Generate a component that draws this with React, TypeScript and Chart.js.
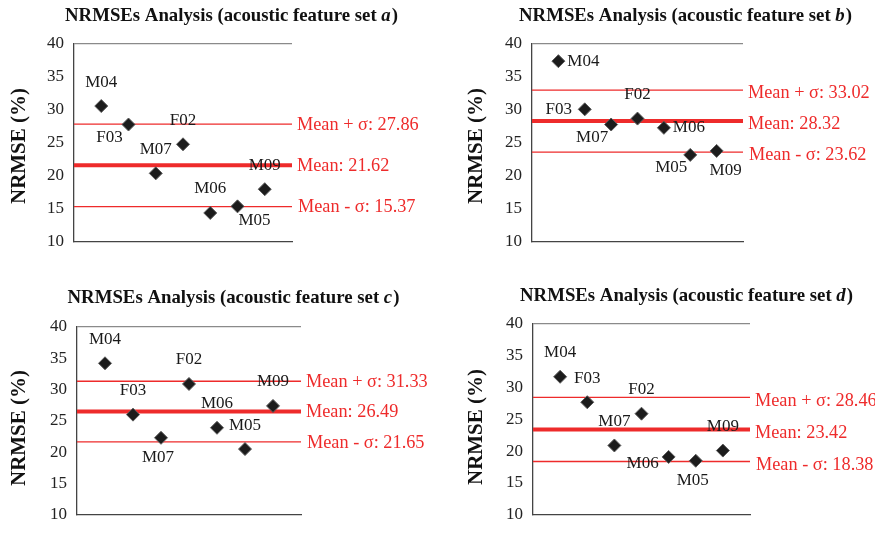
import React, { useEffect, useRef } from 'react';
import { Chart, registerables } from 'chart.js';

Chart.register(...registerables);

// ---------- data ----------
const speakers = ['M04', 'F03', 'M07', 'F02', 'M06', 'M05', 'M09'];
const yTicks = [10, 15, 20, 25, 30, 35, 40];

const nrmseA = [30.6, 27.8, 20.4, 24.8, 14.4, 15.4, 18.0];
const nrmseB = [37.4, 30.1, 27.8, 28.7, 27.3, 23.2, 23.8];
const nrmseC = [34.2, 26.0, 22.3, 30.9, 23.9, 20.5, 27.4];
const nrmseD = [31.7, 27.7, 20.9, 25.9, 19.1, 18.5, 20.1];

const meanA = 21.62, upperA = 27.86, lowerA = 15.37;
const meanB = 28.32, upperB = 33.02, lowerB = 23.62;
const meanC = 26.49, upperC = 31.33, lowerC = 21.65;
const meanD = 23.42, upperD = 28.46, lowerD = 18.38;

const featureSets = ['a', 'b', 'c', 'd'];

// label placement keywords per panel (style)
const placeA = ['above', 'belowLeft', 'above', 'above', 'above', 'belowRight', 'above'];
const placeB = ['right', 'left', 'belowLeft', 'above', 'right', 'belowLeft', 'belowNear'];
const placeC = ['above', 'above', 'below', 'above', 'above', 'above', 'above'];
const placeD = ['above', 'above', 'above', 'above', 'leftLow', 'below', 'above'];

const OFFSETS: Record<string, [number, number]> = {
  above: [0, -24],
  below: [-3, 20],
  belowNear: [9, 20],
  left: [-26, 0],
  right: [25, 0],
  leftLow: [-26, 7],
  belowLeft: [-19, 13],
  belowRight: [17, 14],
};

const RED = '#ee2b2b';
const SERIF = '"Liberation Serif", "Times New Roman", serif';
const TITLE_SIZE = 18.8;

type Panel = {
  set: string;
  values: number[];
  mean: number;
  upper: number;
  lower: number;
  place: string[];
  box: { x: number; y: number; w: number; h: number };
  area: { l: number; t: number; r: number; b: number };
  title: { x: number; y: number };
  ylab: { x: number; y: number };
  meanDy: number;
};

const panels: Panel[] = [
  {
    set: featureSets[0], values: nrmseA, mean: meanA, upper: upperA, lower: lowerA, place: placeA,
    box: { x: 0, y: 0, w: 438, h: 270 }, area: { l: 74, t: 44, r: 292, b: 242 },
    title: { x: 231, y: 16 }, ylab: { x: 20, y: 146 }, meanDy: 1,
  },
  {
    set: featureSets[1], values: nrmseB, mean: meanB, upper: upperB, lower: lowerB, place: placeB,
    box: { x: 438, y: 0, w: 437, h: 270 }, area: { l: 532, t: 44, r: 743, b: 242 },
    title: { x: 685, y: 16 }, ylab: { x: 477, y: 146 }, meanDy: 3,
  },
  {
    set: featureSets[2], values: nrmseC, mean: meanC, upper: upperC, lower: lowerC, place: placeC,
    box: { x: 0, y: 270, w: 438, h: 265 }, area: { l: 77, t: 327, r: 301, b: 527 },
    title: { x: 233, y: 298 }, ylab: { x: 20, y: 428 }, meanDy: 1,
  },
  {
    set: featureSets[3], values: nrmseD, mean: meanD, upper: upperD, lower: lowerD, place: placeD,
    box: { x: 438, y: 270, w: 437, h: 265 }, area: { l: 533, t: 324, r: 750, b: 522 },
    title: { x: 686, y: 296 }, ylab: { x: 477, y: 427 }, meanDy: 4,
  },
];

function PanelChart({ p }: { p: Panel }) {
  const ref = useRef<HTMLCanvasElement | null>(null);
  useEffect(() => {
    const canvas = ref.current;
    if (!canvas) return;
    const ox = p.box.x, oy = p.box.y;

    const decor = {
      id: 'decor' + p.set,
      afterDraw(chart: any) {
        const ctx = chart.ctx;
        const xs = chart.scales.x, ys = chart.scales.y;
        ctx.save();
        // title
        const part1 = 'NRMSEs Analysis (acoustic feature set ';
        const part3 = ')';
        const fB = `bold ${TITLE_SIZE}px ${SERIF}`;
        const fI = `italic bold ${TITLE_SIZE}px ${SERIF}`;
        ctx.textBaseline = 'middle';
        ctx.fillStyle = '#111';
        ctx.font = fB;
        const w1 = ctx.measureText(part1).width;
        const w3 = ctx.measureText(part3).width;
        ctx.font = fI;
        const w2 = ctx.measureText(p.set).width;
        const total = w1 + w2 + w3;
        let tx = p.title.x - ox - total / 2;
        const ty = p.title.y - oy;
        ctx.textAlign = 'left';
        ctx.font = fB;
        ctx.fillText(part1, tx, ty);
        tx += w1;
        ctx.font = fI;
        ctx.fillText(p.set, tx, ty);
        tx += w2 + 1;
        ctx.font = fB;
        ctx.fillText(part3, tx, ty);

        // y label
        ctx.save();
        ctx.translate(p.ylab.x - ox, p.ylab.y - oy);
        ctx.rotate(-Math.PI / 2);
        ctx.textAlign = 'center';
        ctx.textBaseline = 'middle';
        ctx.font = `bold 21px ${SERIF}`;
        ctx.fillStyle = '#111';
        ctx.fillText('NRMSE (%)', 0, 0);
        ctx.restore();

        // point labels
        ctx.font = `17px ${SERIF}`;
        ctx.fillStyle = '#1a1a1a';
        ctx.textAlign = 'center';
        ctx.textBaseline = 'middle';
        p.values.forEach((v, i) => {
          const px = xs.getPixelForValue(i + 1);
          const py = ys.getPixelForValue(v);
          const [dx, dy] = OFFSETS[p.place[i]];
          ctx.fillText(speakers[i], px + dx, py + dy);
        });

        // mean labels
        ctx.font = `18.3px ${SERIF}`;
        ctx.fillStyle = RED;
        ctx.textAlign = 'left';
        const rx = chart.chartArea.right + 5;
        ctx.fillText('Mean + \u03c3: ' + p.upper.toFixed(2), rx, ys.getPixelForValue(p.upper) + p.meanDy);
        ctx.fillText('Mean: ' + p.mean.toFixed(2), rx, ys.getPixelForValue(p.mean) + p.meanDy);
        ctx.fillText('Mean - \u03c3: ' + p.lower.toFixed(2), rx + 1, ys.getPixelForValue(p.lower) + p.meanDy);
        ctx.restore();
      },
    };

    const hline = (v: number) => [{ x: 0, y: v }, { x: 8, y: v }];

    const chart = new Chart(canvas, {
      type: 'scatter',
      data: {
        datasets: [
          {
            type: 'line',
            data: hline(p.upper),
            borderColor: RED, borderWidth: 1.3, pointRadius: 0, order: 3,
          } as any,
          {
            type: 'line',
            data: hline(p.mean),
            borderColor: RED, borderWidth: 4, pointRadius: 0, order: 3,
          } as any,
          {
            type: 'line',
            data: hline(p.lower),
            borderColor: RED, borderWidth: 1.3, pointRadius: 0, order: 3,
          } as any,
          {
            type: 'scatter',
            data: p.values.map((v, i) => ({ x: i + 1, y: v })),
            pointStyle: 'rectRot',
            pointRadius: 6.5,
            backgroundColor: '#1c1c1c',
            borderColor: '#5a5a5a',
            borderWidth: 1,
            order: 1,
          },
        ],
      },
      options: {
        responsive: false,
        animation: false,
        devicePixelRatio: 1,
        layout: {
          padding: {
            left: 0,
            top: p.area.t - oy,
            right: ox + p.box.w - p.area.r,
            bottom: oy + p.box.h - p.area.b,
          },
        },
        plugins: {
          legend: { display: false },
          tooltip: { enabled: false },
          title: { display: false },
        },
        scales: {
          x: {
            type: 'linear',
            min: 0,
            max: 8,
            ticks: { display: false },
            grid: { display: false },
            border: { display: true, color: '#444', width: 1.3 },
            afterFit: (s: any) => { s.height = 0; },
          },
          y: {
            type: 'linear',
            min: yTicks[0],
            max: yTicks[yTicks.length - 1],
            afterBuildTicks: (s: any) => { s.ticks = yTicks.map((v) => ({ value: v })); },
            ticks: {
              color: '#222',
              padding: 10,
              font: { family: SERIF, size: 17 },
            },
            grid: {
              drawTicks: false,
              color: (c: any) => (c.tick && c.tick.value === 40 ? '#8a8a8a' : 'rgba(0,0,0,0)'),
              lineWidth: 1.2,
            },
            border: { display: true, color: '#444', width: 1.3 },
            afterFit: (s: any) => { s.width = p.area.l - ox; },
          },
        },
      } as any,
      plugins: [decor],
    });
    return () => chart.destroy();
  }, [p]);

  return (
    <canvas
      ref={ref}
      width={p.box.w}
      height={p.box.h}
      style={{ position: 'absolute', left: p.box.x, top: p.box.y, width: p.box.w, height: p.box.h }}
    />
  );
}

export default function App() {
  return (
    <div style={{ position: 'fixed', left: 0, top: 0, width: 875, height: 535, background: '#fff', overflow: 'hidden' }}>
      {panels.map((p) => (
        <PanelChart key={p.set} p={p} />
      ))}
    </div>
  );
}
